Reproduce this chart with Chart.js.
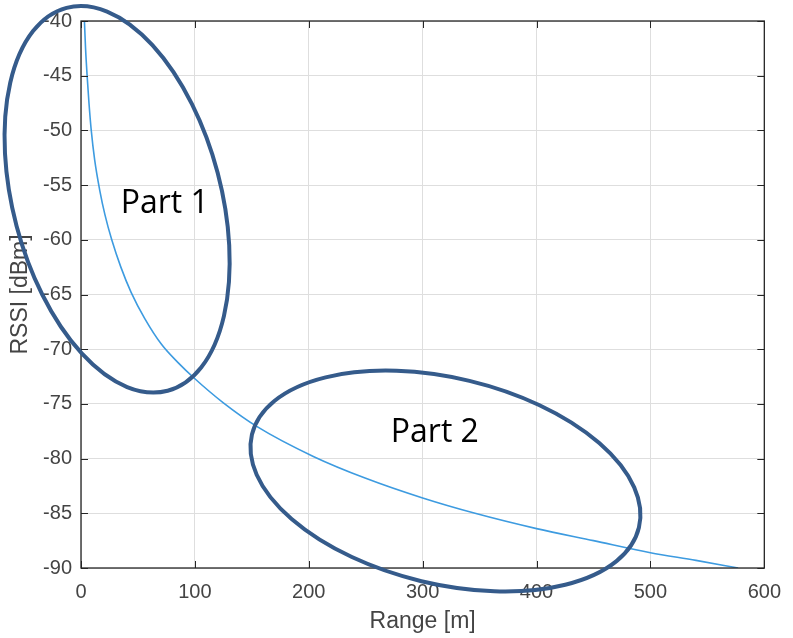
<!DOCTYPE html>
<html>
<head>
<meta charset="utf-8">
<script src="https://cdn.jsdelivr.net/npm/chart.js@4.4.1/dist/chart.umd.min.js"></script>
<style>
  html, body { margin: 0; padding: 0; background: #fff; }
  #wrap { width: 793px; height: 638px; position: relative; }
</style>
</head>
<body>
<div id="wrap"><canvas id="rssiChart"></canvas></div>
<script>
// 距离 [m] 与 RSSI [dBm]
const rangeM = [3, 4, 5.5, 7, 9, 12, 16.5, 21, 27, 35, 44, 56, 71, 85, 100, 125, 155, 204, 250, 300, 346, 400, 450, 500, 540, 577];
const rssiDbm = [-40, -42.5, -45.2, -47.5, -50, -52.7, -55.5, -57.7, -60, -62.5, -64.8, -67.2, -69.6, -71.2, -72.7, -74.9, -77.1, -79.8, -81.8, -83.6, -85, -86.4, -87.5, -88.6, -89.3, -90];

const xTicks = [0, 100, 200, 300, 400, 500, 600];
const yTicks = [-90, -85, -80, -75, -70, -65, -60, -55, -50, -45, -40];

// 标注：椭圆中心和文字位置（数据坐标）
const partLabels = ['Part 1', 'Part 2'];
const partTextX = [34.8, 272];
const partTextY = [-57.55, -78.5];
const ellipseCx = [31.7, 320];
const ellipseCy = [-56.3, -82.05];

const fontFamily = "'Liberation Sans', Arial, Helvetica, sans-serif";
const axisColor = '#262626';
const labelColor = '#444444';

// 外框 + 向内的刻度线
const boxPlugin = {
    id: 'boxTicks',
    afterDatasetsDraw(chart) {
        const { ctx, chartArea: a, scales: { x, y } } = chart;
        const len = 7;
        ctx.save();
        ctx.strokeStyle = axisColor;
        ctx.lineWidth = 1;
        ctx.beginPath();
        xTicks.forEach(v => {
            const px = Math.round(x.getPixelForValue(v)) + 0.5;
            ctx.moveTo(px, a.bottom); ctx.lineTo(px, a.bottom - len);
            ctx.moveTo(px, a.top); ctx.lineTo(px, a.top + len);
        });
        yTicks.forEach(v => {
            const py = Math.round(y.getPixelForValue(v)) + 0.5;
            ctx.moveTo(a.left, py); ctx.lineTo(a.left + len, py);
            ctx.moveTo(a.right, py); ctx.lineTo(a.right - len, py);
        });
        ctx.stroke();
        ctx.lineWidth = 1.3;
        ctx.strokeRect(a.left, a.top, a.right - a.left, a.bottom - a.top);
        ctx.restore();
    }
};

// 椭圆与 Part 文字
const notePlugin = {
    id: 'notes',
    afterDraw(chart) {
        const { ctx, scales: { x, y } } = chart;
        const radii = [[104, 198, -14.8], [199, 103, 13.5]];
        ctx.save();
        ctx.strokeStyle = '#355b8b';
        ctx.lineWidth = 4;
        ellipseCx.forEach((cx, i) => {
            const [rx, ry, deg] = radii[i];
            ctx.beginPath();
            ctx.ellipse(x.getPixelForValue(cx), y.getPixelForValue(ellipseCy[i]), rx, ry, deg * Math.PI / 180, 0, Math.PI * 2);
            ctx.stroke();
        });
        ctx.fillStyle = '#000';
        ctx.font = "32px 'Open Sans', 'Noto Sans', sans-serif";
        ctx.textAlign = 'left';
        ctx.textBaseline = 'alphabetic';
        partLabels.forEach((t, i) => {
            ctx.fillText(t, x.getPixelForValue(partTextX[i]), y.getPixelForValue(partTextY[i]));
        });
        ctx.restore();
    }
};

new Chart(document.getElementById('rssiChart'), {
    type: 'scatter',
    data: {
        datasets: [{
            data: rangeM.map((d, i) => ({ x: d, y: rssiDbm[i] })),
            showLine: true,
            borderColor: '#3d9be0',
            borderWidth: 1.6,
            pointRadius: 0,
            cubicInterpolationMode: 'monotone',
            fill: false
        }]
    },
    options: {
        responsive: true,
        maintainAspectRatio: false,
        animation: false,
        layout: { padding: { top: 21, right: 20, left: 0, bottom: 0 } },
        plugins: {
            legend: { display: false },
            tooltip: { enabled: false }
        },
        scales: {
            x: {
                type: 'linear',
                min: 0,
                max: 600,
                afterFit(scale) { scale.height = 70; },
                afterBuildTicks(scale) { scale.ticks = xTicks.map(v => ({ value: v })); },
                ticks: { color: labelColor, padding: 12, maxRotation: 0, font: { family: fontFamily, size: 20 } },
                grid: { color: '#dedede', drawTicks: false },
                border: { display: false },
                title: {
                    display: true,
                    text: 'Range [m]',
                    color: labelColor,
                    padding: { top: 0, bottom: 3 },
                    font: { family: fontFamily, size: 23 }
                }
            },
            y: {
                type: 'linear',
                min: -90,
                max: -40,
                afterFit(scale) { scale.width = 81; },
                afterBuildTicks(scale) { scale.ticks = yTicks.map(v => ({ value: v })); },
                ticks: { color: labelColor, padding: 9, font: { family: fontFamily, size: 20 } },
                grid: { color: '#dedede', drawTicks: false },
                border: { display: false },
                title: {
                    display: true,
                    text: 'RSSI [dBm]',
                    color: labelColor,
                    padding: { top: 7, bottom: 0 },
                    font: { family: fontFamily, size: 23 }
                }
            }
        }
    },
    plugins: [boxPlugin, notePlugin]
});
</script>
</body>
</html>
